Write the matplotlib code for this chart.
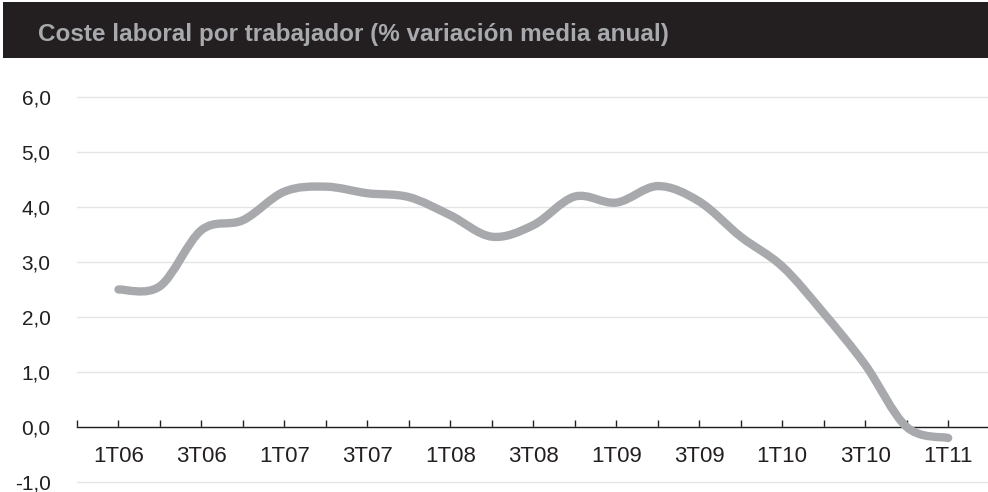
import numpy as np
import matplotlib.pyplot as plt
from matplotlib.path import Path
from matplotlib.patches import PathPatch, Rectangle

plt.rcParams['font.family'] = ['Liberation Sans', 'DejaVu Sans']

title = 'Coste laboral por trabajador (% variación media anual)'
quarters = ['1T06', '2T06', '3T06', '4T06', '1T07', '2T07', '3T07', '4T07',
            '1T08', '2T08', '3T08', '4T08', '1T09', '2T09', '3T09', '4T09',
            '1T10', '2T10', '3T10', '4T10', '1T11']
coste = [2.50, 2.56, 3.58, 3.76, 4.28, 4.37, 4.25, 4.18, 3.85, 3.46, 3.67,
         4.19, 4.08, 4.38, 4.10, 3.46, 2.92, 2.07, 1.13, 0.00, -0.20]
yticks = [-1, 0, 1, 2, 3, 4, 5, 6]

dark = '#231f20'
line_gray = '#a7a9ac'

fig = plt.figure(figsize=(9.88, 4.92), dpi=100)

# title bar
fig.patches.append(Rectangle((0.003, 0.882), 0.997, 0.114, transform=fig.transFigure,
                             facecolor=dark, edgecolor='none'))
fig.text(38 / 988, 0.929, title, color=line_gray, fontsize=17.5, fontweight='bold',
         va='center', ha='left')

ax = fig.add_axes([77 / 988, 0.01474, 1 - 77 / 988, 0.7937])

x = np.arange(len(coste))
y = np.array(coste)

# smoothed line (bezier through the points)
px = np.concatenate([[x[0]], x, [x[-1]]])
py = np.concatenate([[y[0]], y, [y[-1]]])
verts = [(x[0], y[0])]
codes = [Path.MOVETO]
for i in range(1, len(px) - 2):
    c1 = (px[i] + (px[i + 1] - px[i - 1]) / 6, py[i] + (py[i + 1] - py[i - 1]) / 6)
    c2 = (px[i + 1] - (px[i + 2] - px[i]) / 6, py[i + 1] - (py[i + 2] - py[i]) / 6)
    verts += [c1, c2, (px[i + 1], py[i + 1])]
    codes += [Path.CURVE4] * 3
ax.add_patch(PathPatch(Path(verts, codes), facecolor='none', edgecolor=line_gray,
                       lw=6, capstyle='round', joinstyle='round', zorder=3))

ax.set_xlim(-1, 20.96)
ax.set_ylim(-1.05, 6.05)

for s in ['top', 'right', 'left']:
    ax.spines[s].set_visible(False)
ax.spines['bottom'].set_position(('data', 0))
ax.spines['bottom'].set_color(dark)
ax.spines['bottom'].set_linewidth(1)

ax.set_xticks(np.arange(-1, len(quarters)))
ax.set_xticklabels([''] + [q if i % 2 == 0 else '' for i, q in enumerate(quarters)])
ax.tick_params(axis='x', direction='in', length=5, width=1, color=dark,
               labelsize=16, labelcolor=dark, pad=14)

ax.set_yticks(yticks)
ax.set_yticklabels([f'{v:.1f}'.replace('.', ',') for v in yticks])
ax.tick_params(axis='y', length=0, labelsize=15, labelcolor=dark, pad=19)
ax.yaxis.grid(True, color='#e4e4e4', lw=1)
ax.set_axisbelow(True)

fig.savefig('out.png', dpi=100)
